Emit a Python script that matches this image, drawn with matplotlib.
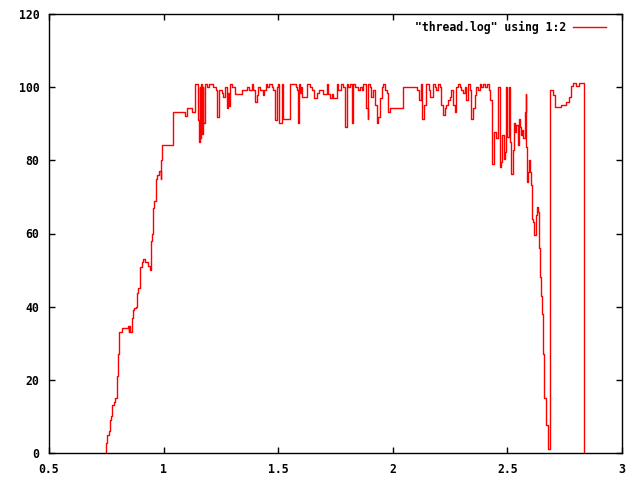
import numpy as np
import matplotlib
matplotlib.use("Agg")
import matplotlib.pyplot as plt

# thread.log, column 1 (time) vs column 2 (load %)
time_s = [
    0.747, 0.749, 0.753, 0.760, 0.764, 0.770, 0.773, 0.777, 0.784, 0.790,
    0.795, 0.801, 0.804, 0.818, 0.843, 0.848, 0.851, 0.855, 0.860, 0.865,
    0.870, 0.879, 0.884, 0.889, 0.898, 0.905, 0.912, 0.921, 0.930, 0.940,
    0.943, 0.949, 0.953, 0.959, 0.966, 0.973, 0.982, 0.987, 0.990, 0.991,
    1.043, 1.095, 1.100, 1.122,
    1.1376, 1.150, 1.152, 1.155, 1.158, 1.160, 1.164, 1.167, 1.171, 1.174,
    1.181, 1.188, 1.196, 1.217, 1.229, 1.235, 1.240, 1.254, 1.261, 1.268,
    1.276, 1.280, 1.283, 1.287, 1.290, 1.297, 1.312, 1.341, 1.366, 1.374,
    1.385, 1.392, 1.399, 1.406, 1.414, 1.421, 1.432, 1.438, 1.447, 1.453,
    1.461, 1.472, 1.479, 1.486, 1.493, 1.501, 1.505, 1.515, 1.522, 1.551,
    1.578, 1.583,
    1.585, 1.591, 1.595, 1.599, 1.605, 1.624, 1.639, 1.649, 1.657, 1.668,
    1.678, 1.697, 1.715, 1.718, 1.726, 1.733, 1.740, 1.755, 1.762, 1.776,
    1.784, 1.791, 1.798, 1.806, 1.813, 1.820, 1.827, 1.835, 1.849, 1.856,
    1.864, 1.871, 1.881, 1.890, 1.893, 1.900, 1.907, 1.914, 1.922, 1.929,
    1.936, 1.943, 1.951, 1.958, 1.965, 1.973, 1.980, 1.987, 2.045,
    2.106, 2.115, 2.121, 2.129, 2.135, 2.144, 2.158, 2.164, 2.176, 2.183,
    2.190, 2.197, 2.205, 2.212, 2.219, 2.227, 2.234, 2.241, 2.248, 2.256,
    2.263, 2.270, 2.277, 2.285, 2.292, 2.299, 2.306, 2.314, 2.321, 2.328,
    2.335, 2.343, 2.350, 2.357, 2.364, 2.372, 2.379, 2.386, 2.393, 2.401,
    2.411, 2.420, 2.425, 2.434, 2.440, 2.449, 2.459,
    2.469, 2.473, 2.478, 2.485, 2.491, 2.495, 2.499, 2.505, 2.511, 2.517,
    2.524, 2.528, 2.534, 2.539, 2.546, 2.550, 2.556, 2.560, 2.565, 2.569,
    2.575, 2.581, 2.582, 2.585, 2.589, 2.594, 2.600, 2.604, 2.607, 2.611,
    2.618, 2.623, 2.629, 2.633, 2.637, 2.642, 2.646, 2.651, 2.656, 2.661,
    2.667, 2.679, 2.684, 2.698, 2.709, 2.735, 2.757, 2.767, 2.778, 2.785,
    2.800, 2.814, 2.836,
]
load_pct = [
    0.0, 2.8, 4.9, 6.1, 9.0, 10.1, 12.1, 13.1, 14.0, 14.9,
    21.0, 27.0, 33.0, 34.1, 34.8, 33.1, 34.8, 33.1, 37.0, 39.1,
    39.5, 40.0, 43.8, 45.0, 50.9, 52.3, 52.9, 52.3, 51.2, 50.0,
    58.0, 60.0, 67.0, 68.9, 75.0, 76.1, 77.0, 75.0, 80.0, 84.2,
    93.1, 92.0, 94.2, 93.1,
    101.0, 100.1, 91.0, 85.1, 100.1, 86.0, 101.0, 87.3, 100.1, 90.1,
    101.0, 100.1, 101.0, 100.1, 99.2, 91.9, 99.2, 98.3, 97.4, 100.1,
    94.2, 98.3, 98.3, 94.9, 101.0, 100.1, 98.0, 99.2, 100.1, 99.2,
    101.0, 99.2, 96.0, 97.8, 100.1, 99.2, 97.8, 99.2, 101.0, 100.1,
    101.0, 100.1, 99.2, 91.0, 100.1, 101.0, 90.1, 101.0, 91.3, 101.0,
    100.1, 99.2,
    90.1, 101.0, 98.3, 100.1, 97.4, 101.0, 100.1, 99.2, 97.1, 98.3,
    99.2, 98.0, 101.0, 98.0, 97.1, 98.0, 97.1, 101.0, 99.2, 101.0,
    100.1, 89.2, 101.0, 100.1, 101.0, 90.1, 101.0, 100.1, 99.2, 100.1,
    99.2, 101.0, 94.2, 91.4, 101.0, 100.1, 97.4, 99.2, 95.1, 90.1,
    91.9, 97.1, 100.1, 101.0, 99.2, 98.3, 93.3, 94.2, 100.1,
    99.2, 96.4, 101.0, 91.4, 95.1, 101.0, 99.2, 97.4, 101.0, 100.1,
    99.2, 101.0, 100.1, 95.1, 92.3, 94.2, 95.1, 96.4, 97.4, 99.2,
    95.1, 93.3, 100.1, 101.0, 100.1, 99.2, 98.3, 100.1, 96.4, 101.0,
    99.2, 91.4, 94.2, 97.8, 100.1, 99.2, 101.0, 100.1, 101.0, 100.1,
    101.0, 99.2, 96.4, 79.1, 87.8, 86.0, 100.1,
    78.2, 79.6, 86.9, 80.5, 82.3, 100.1, 86.4, 100.1, 85.1, 76.4,
    82.8, 90.1, 87.8, 89.6, 84.1, 91.4, 89.2, 86.9, 88.3, 86.0,
    93.3, 98.0, 83.7, 74.1, 76.9, 80.1, 76.9, 73.2, 64.1, 63.2,
    59.5, 65.0, 67.3, 65.9, 56.0, 48.0, 43.0, 38.0, 27.0, 15.0,
    7.6, 1.0, 99.2, 97.8, 94.6, 95.1, 96.0, 97.3, 100.3, 101.1,
    100.3, 101.1, 0.0,
]

x_ticks = [0.5, 1, 1.5, 2, 2.5, 3]
x_labels = ["0.5", "1", "1.5", "2", "2.5", "3"]
y_ticks = [0, 20, 40, 60, 80, 100, 120]

plt.rcParams["font.family"] = "DejaVu Sans Mono"
plt.rcParams["font.weight"] = "bold"
plt.rcParams["font.size"] = 8.3

fig = plt.figure(figsize=(6.4, 4.8), dpi=100)
ax = fig.add_axes([49 / 640, 27 / 480, 573 / 640, 439 / 480])

ax.plot(time_s, load_pct, drawstyle="steps-post", color="#ff0000", lw=1.0,
        label='"thread.log" using 1:2')

ax.set_xlim(0.5, 3)
ax.set_ylim(0, 120)
ax.set_xticks(x_ticks)
ax.set_xticklabels(x_labels)
ax.set_yticks(y_ticks)
ax.tick_params(direction="in", length=4, width=1, top=True, right=True, pad=7,
               labelsize=8.3)
for s in ax.spines.values():
    s.set_linewidth(1)

ax.legend(loc="upper right", frameon=False, markerfirst=False,
          handlelength=2.9, handletextpad=0.6, borderaxespad=0.2,
          bbox_to_anchor=(0.985, 1.0), fontsize=8.3)

fig.savefig("out.png", dpi=100)
